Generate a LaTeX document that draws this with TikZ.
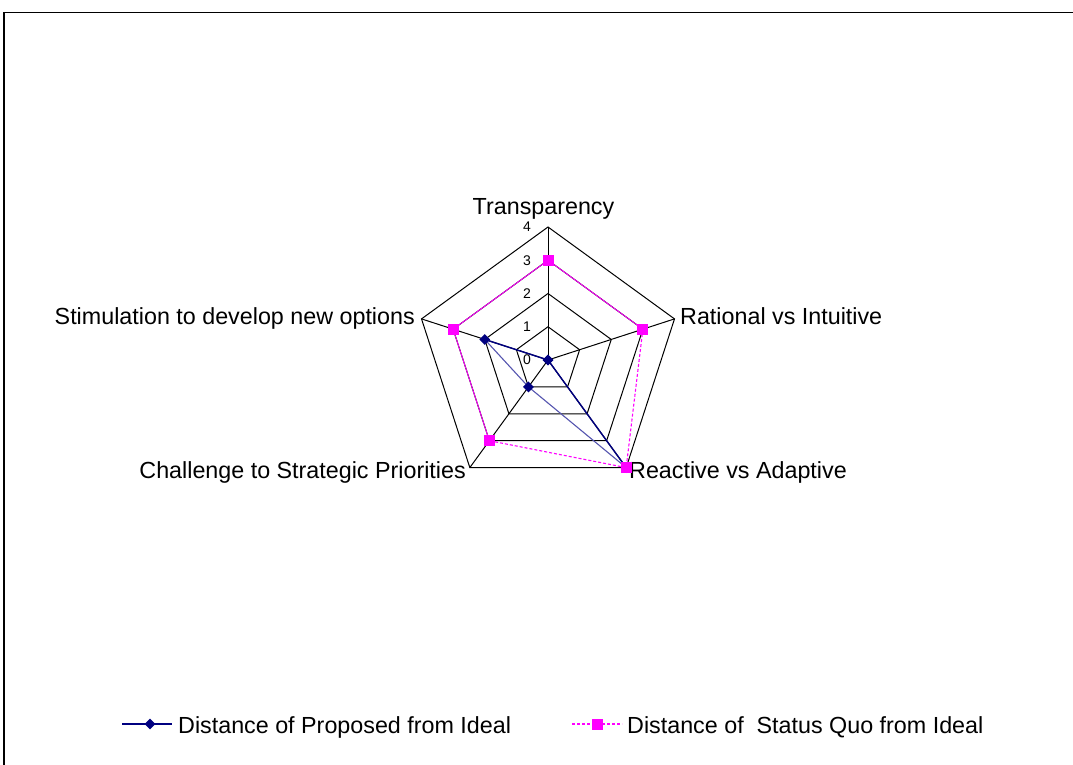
\documentclass[tikz,border=0pt]{standalone}
\usepackage{fontspec}
\setmainfont{Liberation Sans}
\usetikzlibrary{shapes.geometric}
\definecolor{navyline}{RGB}{0,0,128}
\definecolor{paleline}{RGB}{85,85,175}
\definecolor{sqmag}{RGB}{255,0,255}
\tikzset{
  gridline/.style={black, line width=1pt},
  propline/.style={navyline, line width=1.4pt},
  propthin/.style={paleline, line width=1.1pt},
  sqline/.style={sqmag, line width=0.9pt},
  sqdash/.style={sqmag, line width=1.1pt, dash pattern=on 3pt off 2pt},
  diamark/.style={diamond, fill=navyline, inner sep=0pt, minimum size=11pt},
  sqmark/.style={rectangle, fill=sqmag, inner sep=0pt, minimum size=11pt},
  axislabel/.style={font=\fontsize{23.3}{27}\selectfont, inner sep=0pt},
  ticklabel/.style={font=\fontsize{14}{16}\selectfont, inner sep=0pt, anchor=east},
  legendtext/.style={font=\fontsize{23.3}{27}\selectfont, inner sep=0pt, anchor=base west}
}
\begin{document}
\begin{tikzpicture}[x=1pt, y=-1pt]
\useasboundingbox (0,0) rectangle (1073,765);
% chart frame
\draw[black, line width=1.4pt] (4,765) -- (4,12.5) -- (1073,12.5);

% radar centre and unit length
\coordinate (c) at (548,360);
\def\u{33.25}

% grid rings (values 1..4) and spokes
\foreach \k in {1,...,4}
  \draw[gridline] ([shift={(-90:\k*\u)}]c) -- ([shift={(-18:\k*\u)}]c)
    -- ([shift={(54:\k*\u)}]c) -- ([shift={(126:\k*\u)}]c)
    -- ([shift={(-162:\k*\u)}]c) -- cycle;
\foreach \a in {-90,-18,54,126,-162}
  \draw[gridline] (c) -- ([shift={(\a:4*\u)}]c);

% scale values
\foreach \k in {0,...,4}
  \node[ticklabel] (tick\k) at (531,{360-\k*\u}) {\k};

% axis titles
\node[axislabel, anchor=base] (lT) at (543.5,214.5) {Transparency};
\node[axislabel, anchor=base west] (lR) at (680,324) {Rational vs Intuitive};
\node[axislabel, anchor=base west] (lA) at (629,478) {Reactive vs Adaptive};
\node[axislabel, anchor=base east] (lC) at (466,478) {Challenge to Strategic Priorities};
\node[axislabel, anchor=base east] (lS) at (415,324) {Stimulation to develop new options};

% data positions: proposed (0,0,4,1,2) and status quo (3,3,4,3,3)
\coordinate (pT) at ([shift={(-90:0)}]c);
\coordinate (pR) at ([shift={(-18:0)}]c);
\coordinate (pA) at ([shift={(54:4*\u)}]c);
\coordinate (pC) at ([shift={(126:1*\u)}]c);
\coordinate (pS) at ([shift={(-162:2*\u)}]c);
\coordinate (sT) at ([shift={(-90:3*\u)}]c);
\coordinate (sR) at ([shift={(-18:3*\u)}]c);
\coordinate (sA) at ([shift={(54:4*\u)}]c);
\coordinate (sC) at ([shift={(126:3*\u)}]c);
\coordinate (sS) at ([shift={(-162:3*\u)}]c);

% proposed series
\draw[propline] (pS) -- (pT) -- (pR) -- (pA);
\draw[propthin] (pA) -- (pC) -- (pS);
\foreach \p in {pT,pR,pA,pC,pS}
  \node[diamark] (m\p) at (\p) {};

% status quo series
\draw[sqline] (sS) -- (sT) -- (sR);
\draw[sqdash] (sR) -- (sA) -- (sC);
\draw[sqline] (sC) -- (sS);
\foreach \p in {sT,sR,sA,sC,sS}
  \node[sqmark] (m\p) at (\p) {};

% legend
\coordinate (k1a) at (122,724);
\coordinate (k1b) at (172,724);
\draw[propline] (k1a) -- (k1b);
\node[diamark] (k1m) at (150,724) {};
\node[legendtext] (k1t) at (178,733) {Distance of Proposed from Ideal};
\coordinate (k2a) at (572,724);
\coordinate (k2b) at (622,724);
\draw[sqdash] (k2a) -- (k2b);
\node[sqmark] (k2m) at (597,724) {};
\node[legendtext] (k2t) at (627,733) {Distance of\ \ Status Quo from Ideal};
\end{tikzpicture}
\end{document}
